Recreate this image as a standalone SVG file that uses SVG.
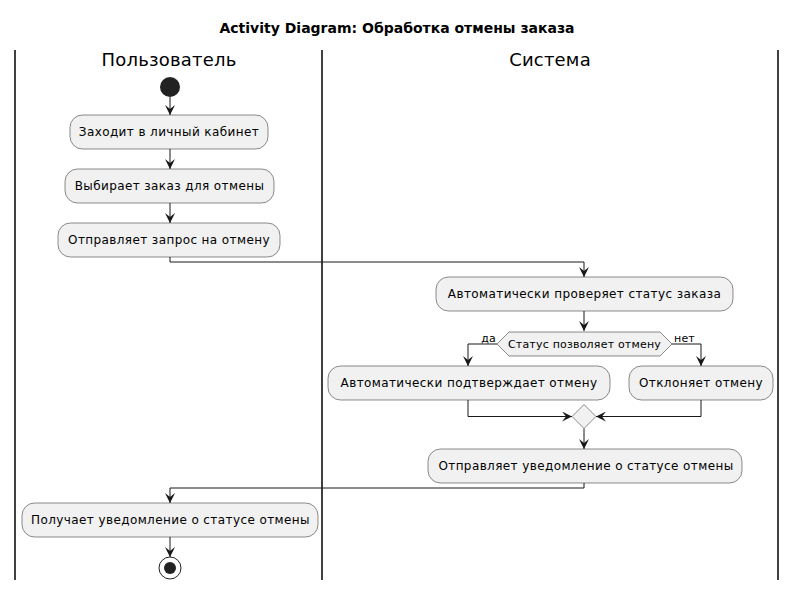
<svg xmlns="http://www.w3.org/2000/svg" width="796" height="590" viewBox="0 0 796 590">
<defs>
<marker id="ah" viewBox="0 0 10 10" refX="10" refY="5" markerWidth="10" markerHeight="10" markerUnits="userSpaceOnUse" orient="auto">
<path d="M0,0 L10,5 L0,10 L4,5 Z" fill="#181818"/>
</marker>
</defs>
<style>
text{font-family:"DejaVu Sans","Liberation Sans",sans-serif;fill:#000}
.t{font-size:14px;font-weight:bold;text-anchor:middle}
.lane{font-size:18px;text-anchor:middle;letter-spacing:0.2px}
.a{font-size:12px;text-anchor:middle;letter-spacing:0.4px}
.s{font-size:11px;letter-spacing:0.2px}
.box{fill:#F1F1F1;stroke:#181818;stroke-width:0.5}
.ln{stroke:#000;stroke-width:1.5}
.c{fill:none;stroke:#181818;stroke-width:1;marker-end:url(#ah)}
</style>
<rect width="796" height="590" fill="#fff"/>
<text class="t" x="397" y="33">Activity Diagram: Обработка отмены заказа</text>
<g id="lanes">
<line class="ln" x1="15" y1="50" x2="15" y2="580"/>
<line class="ln" x1="322" y1="50" x2="322" y2="580"/>
<line class="ln" x1="778" y1="50" x2="778" y2="580"/>
<text class="lane" x="169" y="66">Пользователь</text>
<text class="lane" x="550" y="66">Система</text>
</g>
<g id="connectors">
<path class="c" d="M170,97 V115"/>
<path class="c" d="M170,149 V169"/>
<path class="c" d="M170,203 V223"/>
<path class="c" d="M170,257 V262 H584 V277"/>
<path class="c" d="M584,311 V331"/>
<path class="c" d="M497,344 H468 V366"/>
<path class="c" d="M672,344 H701 V366"/>
<path class="c" d="M468,400 V416.5 H572"/>
<path class="c" d="M701,400 V416.5 H596"/>
<path class="c" d="M584,428.5 V449"/>
<path class="c" d="M584,483 V488 H170 V503"/>
<path class="c" d="M170,537 V557"/>
<text class="s" x="496" y="342" text-anchor="end">да</text>
<text class="s" x="674" y="342">нет</text>
</g>
<g id="start"><circle cx="170" cy="87" r="10" fill="#222"/></g>
<g id="n1"><rect class="box" x="70" y="115" width="198" height="34" rx="12.5"/><text class="a" x="169" y="136">Заходит в личный кабинет</text></g>
<g id="n2"><rect class="box" x="65" y="169" width="209" height="34" rx="12.5"/><text class="a" x="169.5" y="190">Выбирает заказ для отмены</text></g>
<g id="n3"><rect class="box" x="58" y="223" width="222" height="34" rx="12.5"/><text class="a" x="169" y="244">Отправляет запрос на отмену</text></g>
<g id="n4"><rect class="box" x="436" y="277" width="297" height="34" rx="12.5"/><text class="a" x="584.5" y="298">Автоматически проверяет статус заказа</text></g>
<g id="d1"><polygon class="box" points="497,344 509,332 660,332 672,344 660,356 509,356"/><text class="s" x="584.5" y="348" text-anchor="middle">Статус позволяет отмену</text></g>
<g id="n5"><rect class="box" x="328" y="366" width="282" height="34" rx="12.5"/><text class="a" x="469" y="387">Автоматически подтверждает отмену</text></g>
<g id="n6"><rect class="box" x="629" y="366" width="144" height="34" rx="12.5"/><text class="a" x="701" y="387">Отклоняет отмену</text></g>
<g id="merge"><polygon class="box" points="584,404.5 596,416.5 584,428.5 572,416.5"/></g>
<g id="n7"><rect class="box" x="428" y="449" width="314" height="34" rx="12.5"/><text class="a" x="586" y="470">Отправляет уведомление о статусе отмены</text></g>
<g id="n8"><rect class="box" x="22" y="503" width="296" height="34" rx="12.5"/><text class="a" x="170.5" y="524">Получает уведомление о статусе отмены</text></g>
<g id="end"><circle cx="170" cy="568" r="11" fill="none" stroke="#222" stroke-width="1"/><circle cx="170" cy="568" r="6" fill="#222"/></g>
</svg>
